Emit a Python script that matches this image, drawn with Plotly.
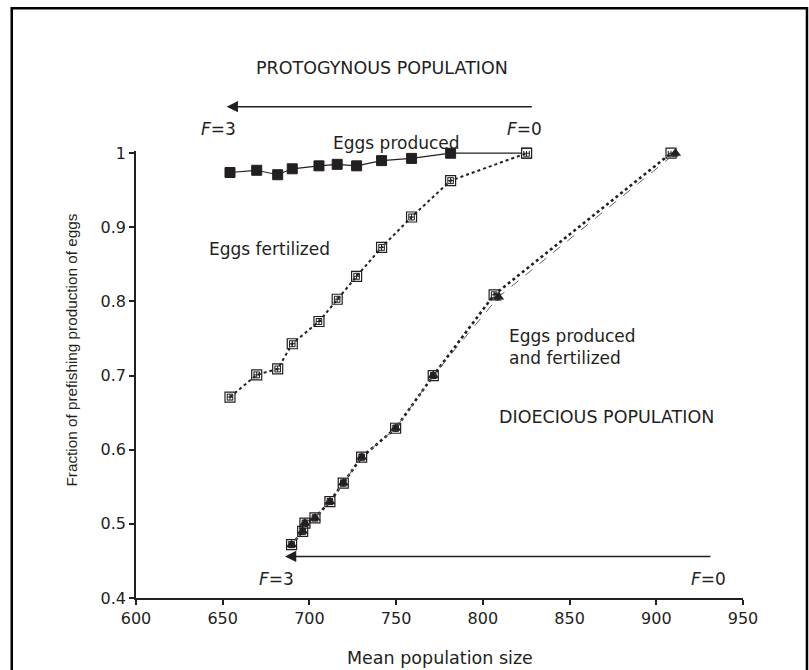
import plotly.graph_objects as go

# ---- data ----
prot_prod_x = [654.2, 669.6, 681.7, 690.1, 705.5, 716.0, 727.2, 741.6, 758.9, 781.4, 825.2]
prot_prod_y = [0.974, 0.977, 0.971, 0.979, 0.983, 0.985, 0.983, 0.990, 0.993, 1.000, 1.000]

prot_fert_x = [654.2, 669.6, 681.7, 690.1, 705.5, 716.0, 727.2, 741.6, 758.9, 781.4, 825.2]
prot_fert_y = [0.671, 0.701, 0.709, 0.743, 0.773, 0.803, 0.834, 0.873, 0.914, 0.963, 1.000]

dio_prod_x = [689.7, 696.1, 697.4, 703.2, 711.8, 719.5, 730.1, 749.7, 771.4, 809.0, 911.0]
dio_prod_y = [0.472, 0.490, 0.501, 0.508, 0.530, 0.555, 0.590, 0.629, 0.700, 0.806, 1.000]
dio_fert_x = [689.7, 696.1, 697.4, 703.2, 711.8, 719.5, 730.1, 749.7, 771.4, 806.5, 908.5]
dio_fert_y = [0.472, 0.490, 0.501, 0.508, 0.530, 0.555, 0.590, 0.629, 0.700, 0.809, 1.000]

x_ticks = [600, 650, 700, 750, 800, 850, 900, 950]
y_ticks = [0.4, 0.5, 0.6, 0.7, 0.8, 0.9, 1.0]
y_ticktext = ["0.4", "0.5", "0.6", "0.7", "0.8", "0.9", "1"]

X_RANGE = [600, 950]
Y_RANGE = [0.4, 1.003]
PLOT_W = 607.3  # px

INK = "#231f20"
FONT = "DejaVu Sans"


def xp(x):
    return (x - X_RANGE[0]) / (X_RANGE[1] - X_RANGE[0])


def yp(y):
    return (y - Y_RANGE[0]) / (Y_RANGE[1] - Y_RANGE[0])


fig = go.Figure()

err_y = dict(type="constant", value=0.004, color=INK, thickness=1, width=3)
err_x = dict(type="constant", value=1.6, color=INK, thickness=1, width=3)

# Dioecious population (produced & fertilized)
fig.add_trace(go.Scatter(
    x=dio_fert_x, y=dio_fert_y, mode="lines+markers",
    line=dict(color=INK, width=2.6, dash="dot"),
    marker=dict(symbol="square-open", size=10, color=INK, line=dict(width=1.2, color=INK)),
    error_y=err_y, error_x=err_x, cliponaxis=False, showlegend=False))
fig.add_trace(go.Scatter(
    x=dio_prod_x, y=dio_prod_y, mode="lines+markers",
    line=dict(color="#666666", width=1, dash="dash"),
    marker=dict(symbol="triangle-up", size=10, color=INK),
    error_y=err_y, cliponaxis=False, showlegend=False))

# Protogynous: eggs produced (F=0 point shown as the shared open square)
prod_colors = [INK] * (len(prot_prod_x) - 1) + ["white"]
fig.add_trace(go.Scatter(
    x=prot_prod_x, y=prot_prod_y, mode="lines+markers",
    line=dict(color=INK, width=1.2),
    marker=dict(symbol="square", size=10, color=prod_colors, line=dict(width=1, color=INK)),
    error_y=err_y, error_x=err_x, cliponaxis=False, showlegend=False))

# Protogynous: eggs fertilized
fig.add_trace(go.Scatter(
    x=prot_fert_x, y=prot_fert_y, mode="lines+markers",
    line=dict(color=INK, width=2, dash="dot"),
    marker=dict(symbol="square-open", size=10, color=INK, line=dict(width=1.2, color=INK)),
    error_y=err_y, error_x=err_x, cliponaxis=False, showlegend=False))


def txt(x, y, s, size=17, xanchor="center", **kw):
    d = dict(x=xp(x), y=yp(y), xref="paper", yref="paper", text=s, showarrow=False,
             xanchor=xanchor, yanchor="middle",
             font=dict(family=FONT, size=size, color=INK))
    d.update(kw)
    fig.add_annotation(**d)


txt(742.1, 1.1146, "PROTOGYNOUS POPULATION", size=17.5)
txt(647.5, 1.0323, "<i>F</i>=3")
txt(824.2, 1.0323, "<i>F</i>=0")
txt(750.4, 1.0139, "Eggs produced")
txt(677.1, 0.8705, "Eggs fertilized")
txt(813.8, 0.7392, "Eggs produced<br>and fertilized", xanchor="left", align="left")
txt(808.3, 0.6448, "DIOECIOUS POPULATION", size=17.5, xanchor="left")
txt(681.1, 0.4256, "<i>F</i>=3")
txt(929.9, 0.4256, "<i>F</i>=0")

# arrows (head at tip, tail to the right)
for tip_x, tail_x, yy in [(652.3, 829.0, 1.0628), (685.9, 932.0, 0.456)]:
    fig.add_annotation(x=xp(tip_x), y=yp(yy), xref="paper", yref="paper",
                       ax=(tail_x - tip_x) * PLOT_W / (X_RANGE[1] - X_RANGE[0]), ay=0,
                       text="", showarrow=True,
                       arrowhead=2, arrowsize=1.5, arrowwidth=1.5,
                       arrowcolor=INK, standoff=0, startstandoff=0)

# axis titles
fig.add_annotation(x=0.5, y=-0.1335, xref="paper", yref="paper",
                   xanchor="center", yanchor="middle",
                   text="Mean population size", showarrow=False,
                   font=dict(family=FONT, size=17.5, color=INK))
fig.add_annotation(x=-0.1059, y=0.5552, xref="paper", yref="paper",
                   xanchor="center", yanchor="middle",
                   text="Fraction of prefishing production of eggs", showarrow=False,
                   textangle=-90, font=dict(family="Liberation Sans", size=15.3, color=INK))

# outer frame
fig.add_shape(type="rect", xref="paper", yref="paper",
              x0=-0.2047, x1=1.1054, y0=-0.2, y1=1.3193,
              line=dict(color="black", width=2.5), fillcolor="rgba(0,0,0,0)")

fig.update_xaxes(range=X_RANGE, tickvals=x_ticks, showline=True, linecolor=INK,
                 linewidth=1.5, ticks="outside", ticklen=5, tickwidth=1.5, tickcolor=INK,
                 showgrid=False, zeroline=False,
                 tickfont=dict(family=FONT, size=16, color=INK))
fig.update_yaxes(range=Y_RANGE, tickvals=y_ticks, ticktext=y_ticktext, showline=True,
                 linecolor=INK, linewidth=1.5, ticks="outside", ticklen=5, tickwidth=1.5,
                 tickcolor=INK, showgrid=False, zeroline=False,
                 tickfont=dict(family=FONT, size=16, color=INK))

fig.update_layout(width=809, height=670, autosize=False,
                  margin=dict(l=136, r=65.7, t=151.1, b=71.7),
                  paper_bgcolor="white", plot_bgcolor="white", showlegend=False)

fig.write_html("out.html")
